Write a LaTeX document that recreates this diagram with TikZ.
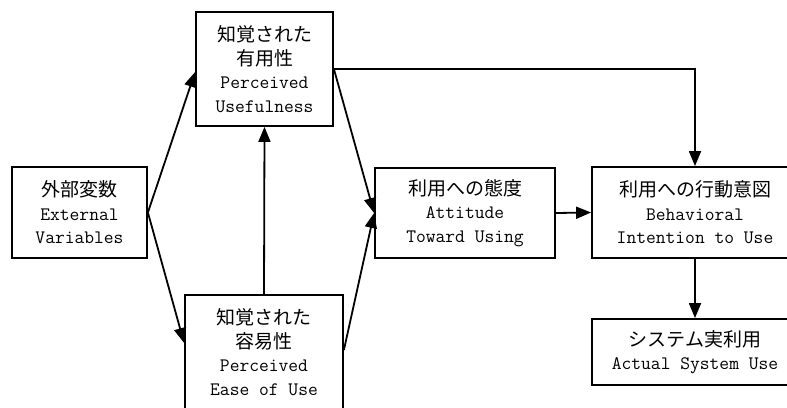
\documentclass[tikz,border=0pt]{standalone}
\usepackage{fontspec}
\newfontfamily\jp{Noto Sans CJK JP}
\usetikzlibrary{arrows.meta,calc}
\newcommand{\J}[1]{{\jp\fontsize{19}{24}\selectfont #1}}
\tikzset{
  box/.style={draw=black, line width=1.8pt, fill=white, align=center,
    inner sep=0pt, font=\ttfamily\fontsize{19}{23.5}\selectfont},
  conn/.style={line width=1.8pt, -{Triangle[length=15pt,width=12pt]}}
}
\begin{document}
\begin{tikzpicture}[x=1pt,y=-1pt]
\fill[white] (0,0) rectangle (787,407);
\clip (0,0) rectangle (787,407);
\node[box, minimum width=135pt, minimum height=91pt] (ext) at (79.5,212.5)
  {\J{外部変数}\\External\\Variables};
\node[box, minimum width=137pt, minimum height=114pt] (pu) at (264.5,69)
  {\J{知覚された}\\\J{有用性}\\Perceived\\Usefulness};
\node[box, minimum width=158pt, minimum height=114pt] (peou) at (264,352)
  {\J{知覚された}\\\J{容易性}\\Perceived\\Ease of Use};
\node[box, minimum width=180pt, minimum height=90pt] (att) at (465,213)
  {\J{利用への態度}\\Attitude\\Toward Using};
\node[box, minimum width=206pt, minimum height=91pt] (int) at (695,212.5)
  {\J{利用への行動意図}\\Behavioral\\Intention to Use};
\node[box, minimum width=206pt, minimum height=66pt] (act) at (695,352)
  {\J{システム実利用}\\Actual System Use};
\draw[conn] (ext.east) -- ($(pu.west)+(0,3)$);
\draw[conn] (ext.east) -- ($(peou.west)+(0,-9)$);
\draw[conn] (peou.north) -- (pu.south);
\draw[conn] (pu.east) -- (att.west);
\draw[conn] ($(peou.east)+(0,-2)$) -- (att.west);
\draw[conn] (pu.east) -| (int.north);
\draw[conn] (att.east) -- (int.west);
\draw[conn] (int.south) -- (act.north);
\end{tikzpicture}
\end{document}
